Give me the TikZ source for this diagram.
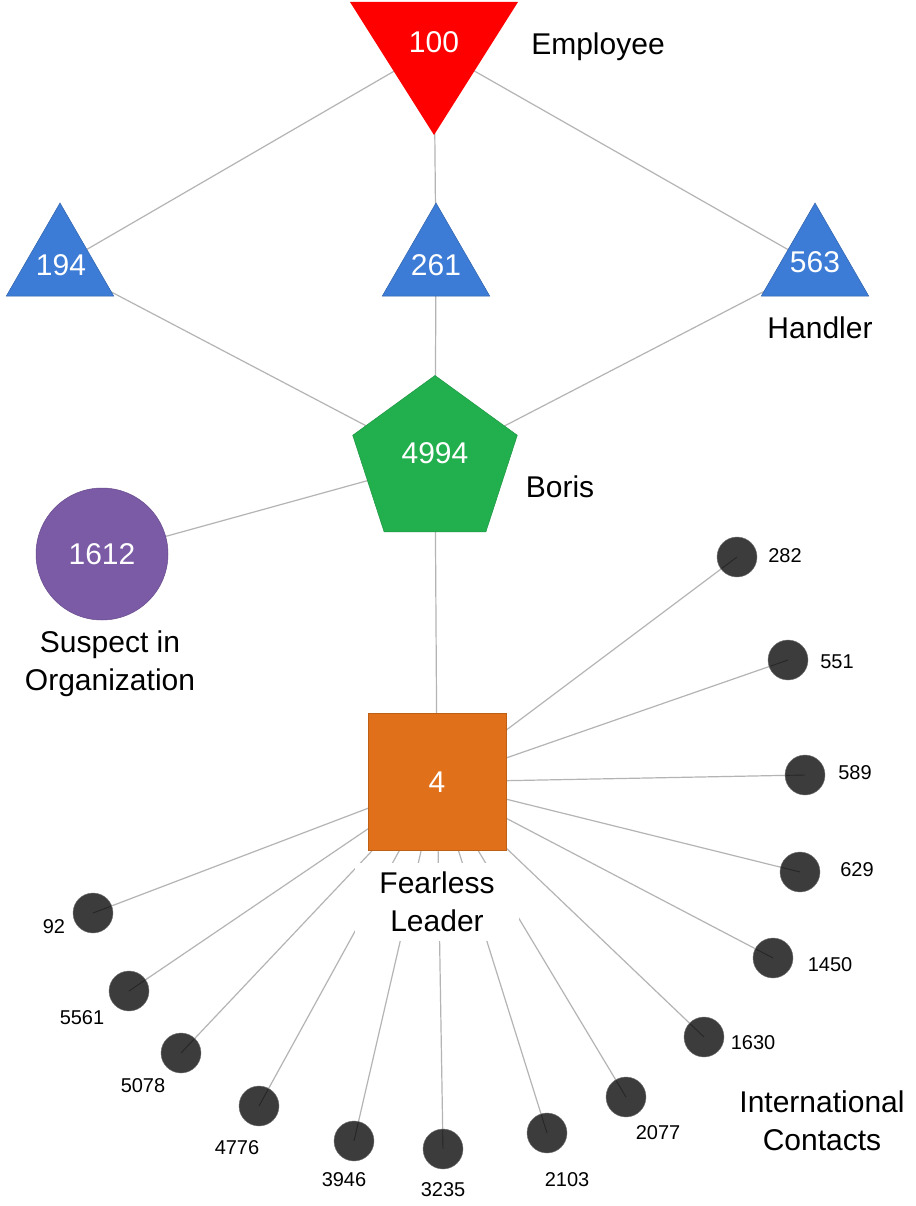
\documentclass[tikz,border=0pt]{standalone}
\usepackage{fontspec}
\setmainfont{Liberation Sans}
\usetikzlibrary{shapes.geometric,calc}
\definecolor{cred}{HTML}{FF0000}
\definecolor{cblue}{HTML}{3C7CD6}
\definecolor{cgreen}{HTML}{22B04E}
\definecolor{cpurple}{HTML}{7B5AA6}
\definecolor{corange}{HTML}{E0701A}
\definecolor{cdark}{HTML}{3C3C3C}
\definecolor{edgegray}{HTML}{B4B4B4}
\pgfdeclarelayer{bg}
\pgfdeclarelayer{edges}
\pgfsetlayers{bg,edges,main}
\begin{document}
\begin{tikzpicture}[x=1pt,y=-1pt,
  big/.style={font=\fontsize{30}{38}\selectfont},
  small/.style={font=\fontsize{20}{24}\selectfont},
  edge/.style={draw=edgegray,line width=1.2pt},
  innerline/.style={draw=black!85,line width=0.9pt},
  tri/.style={regular polygon,regular polygon sides=3,minimum size=124pt,inner sep=0pt,fill=cblue,draw=cblue!80!black,line width=0.5pt},
  pent/.style={regular polygon,regular polygon sides=5,minimum size=173pt,inner sep=0pt,fill=cgreen,draw=cgreen!85!black,line width=0.5pt},
  suspect/.style={circle,minimum size=132pt,inner sep=0pt,fill=cpurple,draw=cpurple!85!black,line width=0.5pt,text=white,big},
  leader/.style={rectangle,minimum width=138pt,minimum height=137pt,inner sep=0pt,fill=corange,draw=corange!85!black,line width=0.5pt,text=white,big},
  contact/.style={circle,minimum size=40pt,inner sep=0pt,fill=cdark,draw=cdark!70!white,line width=0.4pt},
  whitetext/.style={big,text=white,inner sep=0pt}
]
\begin{pgfonlayer}{bg}
\fill[white] (0,0) rectangle (915,1206);
\end{pgfonlayer}
\useasboundingbox (0,0) rectangle (915,1206);

% Employee (inverted triangle)
\fill[cred] (350,2) -- (518,2) -- (434,135) -- cycle;
\coordinate (c100) at (434,48);
\node[whitetext] (n100) at (434,42) {100};
\node[big] (lemployee) at (598,47) {Employee};

% Handlers
\node[tri] (n194) at (60,265) {};
\node[whitetext] (t194) at (61,265) {194};
\node[tri] (n261) at (436,265) {};
\node[whitetext] (t261) at (436,265) {261};
\node[tri] (n563) at (815,265) {};
\node[whitetext] (t563) at (815,262) {563};
\node[big] (lhandler) at (820,328) {Handler};

% Boris
\node[pent] (n4994) at (435,462) {};
\node[whitetext] (t4994) at (435,453) {4994};
\node[big] (lboris) at (560,487) {Boris};

% Suspect
\node[suspect] (n1612) at (102,554) {1612};
\node[big,align=center] (lsuspect) at (110,664) {Suspect in\\Organization};

% Fearless Leader
\node[leader] (n4) at (437,782) {4};
\node[big,align=center,fill=white,inner xsep=24pt,inner ysep=9pt] (lleader) at (437,902) {Fearless\\Leader};

% International contacts label
\node[big,align=center] (lcontacts) at (822,1121) {International\\Contacts};

% upper edges
\begin{pgfonlayer}{edges}
\draw[edge] (c100) -- (n194.center);
\draw[edge] (c100) -- (n261.center);
\draw[edge] (c100) -- (n563.center);
\draw[edge] (n194.center) -- (n4994.center);
\draw[edge] (n261.center) -- (n4994.center);
\draw[edge] (n563.center) -- (n4994.center);
\draw[edge] (n4994.center) -- (n1612.center);
\draw[edge] (n4994.center) -- (n4.center);
\end{pgfonlayer}

% contacts
\foreach \n/\x/\y/\lx/\ly in {282/737/557/785/556, 551/788/660/837/662, 589/805/775/855/773, 629/800/872/857/870, 1450/773/958/830/965, 1630/704/1037/753/1043, 2077/626/1097/658/1133, 2103/547/1133/567/1180, 3235/443/1149/443/1190, 3946/354/1141/344/1180, 4776/259/1106/237/1148, 5078/181/1053/143/1086, 5561/129/991/82/1018, 92/93/913/54/927}{
  \node[contact] (c\n) at (\x,\y) {};
  \node[small] (l\n) at (\lx,\ly) {\n};
  \draw[innerline] (c\n.center) -- ($(c\n.center)!19pt!(n4.center)$);
  \begin{pgfonlayer}{edges}
  \draw[edge] (n4.center) -- (c\n.center);
  \end{pgfonlayer}
}
\end{tikzpicture}
\end{document}
